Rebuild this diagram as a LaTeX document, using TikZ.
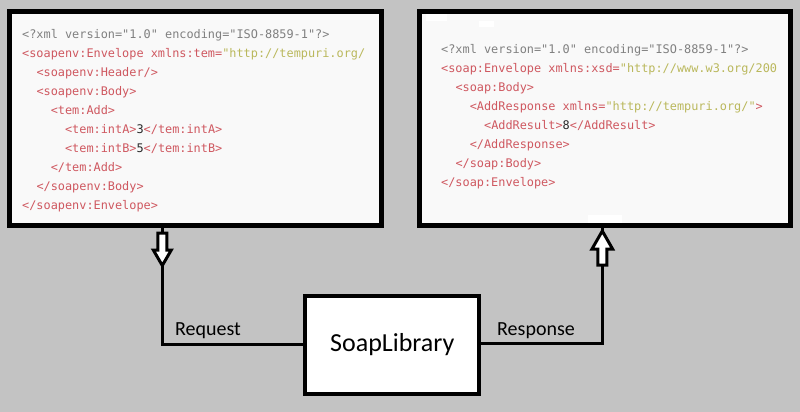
\documentclass[tikz,border=0pt]{standalone}
\usepackage{fontspec}
\setmainfont{Carlito}
\newfontfamily\codefont{DejaVu Sans Mono}
\definecolor{bgc}{HTML}{C3C3C3}
\definecolor{boxc}{HTML}{F9F9F9}
\definecolor{tagc}{RGB}{207,88,96}
\definecolor{valc}{RGB}{186,184,92}
\definecolor{proc}{RGB}{128,128,128}
\definecolor{numc}{RGB}{40,40,40}
\newcommand{\tg}[1]{\textcolor{tagc}{#1}}
\newcommand{\av}[1]{\textcolor{valc}{#1}}
\newcommand{\pro}[1]{\textcolor{proc}{#1}}
\newcommand{\nm}[1]{\textcolor{numc}{#1}}
\tikzset{
  code/.style={anchor=base west,inner sep=0pt,font=\codefont\fontsize{11.87}{14}\selectfont},
  xmlbox/.style={draw=black,line width=5pt,fill=boxc},
  libbox/.style={draw=black,line width=4pt,fill=white,minimum width=174pt,minimum height=98pt,inner sep=0pt,font=\fontsize{26}{30}\selectfont},
  wire/.style={draw=black,line width=3.5pt},
  blockarrow/.style={draw=black,line width=3pt,fill=white,line join=miter},
  lbl/.style={anchor=base west,inner sep=0pt,font=\fontsize{20}{24}\selectfont}
}
\begin{document}
\begin{tikzpicture}[x=1pt,y=-1pt]
\fill[bgc] (0,0) rectangle (800,412);
\useasboundingbox (0,0) rectangle (800,412);
% boxes
\draw[xmlbox] (9.5,11.5) rectangle (381.5,225.5);
\draw[xmlbox] (419.5,11.5) rectangle (790.5,225.5);
\coordinate (reqtop) at (162.3,228);
\coordinate (restop) at (602.3,228);
% small white artefacts
\fill[white] (426,14) rectangle (447,21.3);
\fill[white] (479,21.3) rectangle (494,26.7);
\fill[white] (588,215) rectangle (622,222.7);
% left code
\node[code] (l1) at (22,38) {\pro{<?xml version="1.0" encoding="ISO-8859-1"?>}};
\node[code] (l2) at (22,57) {\tg{<soapenv:Envelope xmlns:tem=}\av{"http://tempuri.org/}};
\node[code] (l3) at (36.3,76) {\tg{<soapenv:Header/>}};
\node[code] (l4) at (36.3,95) {\tg{<soapenv:Body>}};
\node[code] (l5) at (50.6,114) {\tg{<tem:Add>}};
\node[code] (l6) at (64.9,133) {\tg{<tem:intA>}\nm{3}\tg{</tem:intA>}};
\node[code] (l7) at (64.9,152) {\tg{<tem:intB>}\nm{5}\tg{</tem:intB>}};
\node[code] (l8) at (50.6,171) {\tg{</tem:Add>}};
\node[code] (l9) at (36.3,190) {\tg{</soapenv:Body>}};
\node[code] (l10) at (22,209) {\tg{</soapenv:Envelope>}};
% right code
\node[code] (r1) at (441,53) {\pro{<?xml version="1.0" encoding="ISO-8859-1"?>}};
\node[code] (r2) at (441,72) {\tg{<soap:Envelope xmlns:xsd=}\av{"http://www.w3.org/200}};
\node[code] (r3) at (455.3,91) {\tg{<soap:Body>}};
\node[code] (r4) at (469.6,110) {\tg{<AddResponse xmlns=}\av{"http://tempuri.org/"}\tg{>}};
\node[code] (r5) at (483.9,129) {\tg{<AddResult>}\nm{8}\tg{</AddResult>}};
\node[code] (r6) at (469.6,148) {\tg{</AddResponse>}};
\node[code] (r7) at (455.3,167) {\tg{</soap:Body>}};
\node[code] (r8) at (441,186) {\tg{</soap:Envelope>}};
% library
\node[libbox] (lib) at (392.3,345) {SoapLibrary};
% request connector
\coordinate (reqa) at (162.3,233);
\coordinate (reqb) at (162.3,265);
\coordinate (reqc) at (162.3,344.3);
\draw[wire] (reqtop) -- (reqa);
\draw[wire] (reqb) -- (reqc) -- (reqc -| lib.west);
\draw[blockarrow] (157.8,233) -- (166.8,233) -- (166.8,250) -- (171.3,250) -- (162.3,265.5) -- (153.3,250) -- (157.8,250) -- cycle;
% response connector
\coordinate (resa) at (602.3,231);
\coordinate (resb) at (602.3,265);
\coordinate (resc) at (602.3,343.3);
\draw[wire] (restop) -- (resa);
\draw[wire] (lib.east |- resc) -- (resc) -- (resb);
\draw[blockarrow] (597.8,265) -- (606.8,265) -- (606.8,249) -- (612.6,249) -- (602.3,231) -- (592,249) -- (597.8,249) -- cycle;
% labels
\node[lbl] (req) at (175,335) {Request};
\node[lbl] (res) at (497,335) {Response};
\end{tikzpicture}
\end{document}
